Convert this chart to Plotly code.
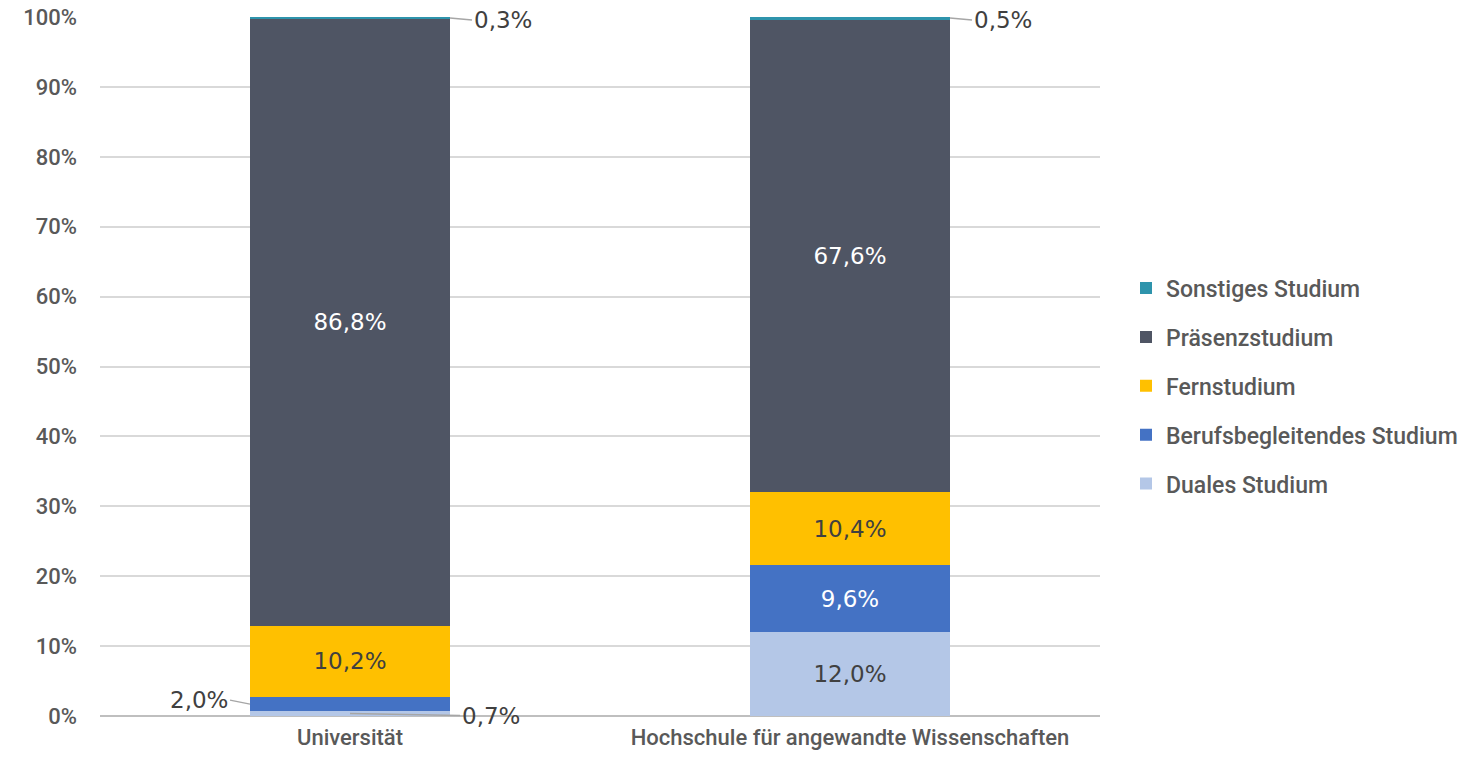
import plotly.graph_objects as go

categories = ["Universität", "Hochschule für angewandte Wissenschaften"]
series_names = ["Duales Studium", "Berufsbegleitendes Studium", "Fernstudium", "Präsenzstudium", "Sonstiges Studium"]
duales = [0.7, 12.0]
berufs = [2.0, 9.6]
fern = [10.2, 10.4]
praesenz = [86.8, 67.6]
sonstiges = [0.3, 0.5]
y_ticks = [0, 10, 20, 30, 40, 50, 60, 70, 80, 90, 100]
y_tick_labels = [f"{t}%" for t in y_ticks]

series_values = [duales, berufs, fern, praesenz, sonstiges]
colors = ["#B4C7E7", "#4472C4", "#FFC000", "#4F5564", "#2E94AC"]
text_colors = ["#404040", "#FFFFFF", "#404040", "#FFFFFF", "#FFFFFF"]
legend_ranks = [5, 4, 3, 2, 1]

def fmt(v):
    return f"{v:.1f}".replace(".", ",") + "%"

COND = "Roboto, sans-serif"
VAL = "DejaVu Sans, sans-serif"
VSIZE = 23

fig = go.Figure()
for i, (name, vals) in enumerate(zip(series_names, series_values)):
    txt = [fmt(v) if v >= 5 else "" for v in vals]
    fig.add_trace(go.Bar(
        name=name, x=categories, y=vals,
        marker=dict(color=colors[i], line=dict(width=0)),
        text=txt, textposition="inside", insidetextanchor="middle",
        textangle=0, constraintext="none",
        textfont=dict(family=VAL, size=VSIZE, color=text_colors[i]),
        width=0.4, legendgroup=name, legendrank=legend_ranks[i], hoverinfo="skip",
    ))

ann_color = "#404040"
lead = "#A6A6A6"
annotations = []
annotations.append(dict(x=0, y=duales[0] / 2, xref="x", yref="y", text=fmt(duales[0]),
                        showarrow=True, arrowhead=0, arrowwidth=1.5, arrowcolor=lead,
                        ax=110, ay=2, xanchor="left", yanchor="middle",
                        font=dict(family=VAL, size=VSIZE, color=ann_color)))
annotations.append(dict(x=-0.2, y=duales[0] + berufs[0] / 2, xref="x", yref="y", text=fmt(berufs[0]),
                        showarrow=True, arrowhead=0, arrowwidth=1.5, arrowcolor=lead,
                        ax=-20, ay=-4, xanchor="right", yanchor="middle",
                        font=dict(family=VAL, size=VSIZE, color=ann_color)))
for j in range(2):
    base = duales[j] + berufs[j] + fern[j] + praesenz[j]
    annotations.append(dict(x=j + 0.2, y=base + sonstiges[j] / 2, xref="x", yref="y", text=fmt(sonstiges[j]),
                            showarrow=True, arrowhead=0, arrowwidth=1.5, arrowcolor=lead,
                            ax=22, ay=2, xanchor="left", yanchor="middle",
                            font=dict(family=VAL, size=VSIZE, color=ann_color)))

fig.update_layout(
    barmode="stack",
    width=1477, height=768,
    margin=dict(l=92, r=385, t=9, b=60, autoexpand=False),
    plot_bgcolor="white", paper_bgcolor="white",
    showlegend=True,
    legend=dict(traceorder="grouped", tracegroupgap=16,
                x=1.026, xanchor="left", y=0.472, yanchor="middle",
                font=dict(family=COND, size=23, color="#595959", weight=500),
                itemwidth=30),
    annotations=annotations,
)
fig.update_yaxes(range=[0, 100], tickvals=y_ticks, ticktext=y_tick_labels,
                 showgrid=True, gridcolor="#D9D9D9", gridwidth=1.5,
                 zeroline=True, zerolinecolor="#BFBFBF", zerolinewidth=1.5,
                 tickfont=dict(family=COND, size=22, color="#595959", weight=500),
                 ticks="", ticklabelstandoff=22, ticklabeloverflow="allow",
                 showline=False, automargin=False)
fig.update_xaxes(tickfont=dict(family=COND, size=22, color="#595959", weight=500),
                 showline=False, ticks="", ticklabelstandoff=6, automargin=False)

fig.write_html("out.html")
